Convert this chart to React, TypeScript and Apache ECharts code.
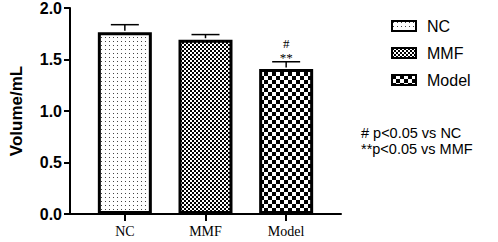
import React, { useEffect, useRef } from "react";
import * as echarts from "echarts";

const categories = ["NC", "MMF", "Model"];
const means = [1.765, 1.692, 1.408];
const errors = [0.073, 0.05, 0.07];
const sigTop = ["", "", "#"];
const sigBottom = ["", "", "**"];
const yTicks = [0, 0.5, 1.0, 1.5, 2.0];
const notes = ["# p<0.05 vs NC", "**p<0.05 vs MMF"];

function makePattern(kind: string): string {
  const c = document.createElement("canvas");
  const ctx = c.getContext("2d")!;
  if (kind === "dots") {
    c.width = 4; c.height = 4;
    ctx.fillStyle = "#fff"; ctx.fillRect(0, 0, 4, 4);
    ctx.fillStyle = "#444"; ctx.fillRect(1, 1, 1, 1);
  } else if (kind === "fine") {
    c.width = 4; c.height = 4;
    ctx.fillStyle = "#fff"; ctx.fillRect(0, 0, 4, 4);
    ctx.fillStyle = "#000"; ctx.fillRect(0, 0, 2, 2); ctx.fillRect(2, 2, 2, 2);
  } else {
    c.width = 8; c.height = 8;
    ctx.fillStyle = "#fff"; ctx.fillRect(0, 0, 8, 8);
    ctx.fillStyle = "#000"; ctx.fillRect(0, 0, 4, 4); ctx.fillRect(4, 4, 4, 4);
  }
  return c.toDataURL();
}

export default function App() {
  const ref = useRef<HTMLDivElement>(null);
  useEffect(() => {
    const chart = echarts.init(ref.current!, null, { renderer: "svg" });
    const kinds = ["dots", "fine", "coarse"];
    const barSeries = categories.map((name, i) => ({
      type: "bar",
      name,
      barWidth: 54,
      barGap: "-100%",
      data: [[i, means[i]]],
      itemStyle: {
        color: { image: makePattern(kinds[i]), repeat: "repeat" },
        borderColor: "#000",
        borderWidth: 3,
      },
      z: 2,
    }));
    chart.setOption({
      animation: false,
      grid: { left: 57, right: 157, top: 8, bottom: 28 },
      legend: {
        left: 386,
        top: 13,
        orient: "vertical",
        itemWidth: 24,
        itemHeight: 10,
        itemGap: 11,
        icon: "rect",
        selectedMode: false,
        textStyle: { fontFamily: "Liberation Sans", fontSize: 16, color: "#000", padding: [0, 0, 0, 6] },
        data: categories,
      },
      xAxis: {
        type: "value",
        min: -0.68,
        max: 2.68,
        splitLine: { show: false },
        axisLine: { show: true, onZero: false, lineStyle: { color: "#000", width: 2 } },
        axisTick: { show: true, customValues: [0, 1, 2], length: 7, lineStyle: { color: "#000", width: 2 } },
        axisLabel: {
          customValues: [0, 1, 2],
          formatter: (v: number) => categories[Math.round(v)] ?? "",
          fontFamily: "Liberation Serif",
          fontSize: 14,
          color: "#000",
          margin: 10,
        },
      },
      yAxis: {
        type: "value",
        min: 0,
        max: 2,
        interval: 0.5,
        name: "Volume/mL",
        nameLocation: "middle",
        nameRotate: 90,
        nameGap: 45,
        nameTextStyle: { fontFamily: "Liberation Sans", fontWeight: "bold", fontSize: 17, color: "#000" },
        splitLine: { show: false },
        axisLine: { show: true, onZero: false, lineStyle: { color: "#000", width: 2 } },
        axisTick: { show: true, length: 6, lineStyle: { color: "#000", width: 2 } },
        axisLabel: {
          formatter: (v: number) => (yTicks.includes(v) ? v.toFixed(1) : ""),
          fontFamily: "Liberation Sans",
          fontWeight: "bold",
          fontSize: 16,
          color: "#000",
          margin: 8,
        },
      },
      series: [
        ...barSeries,
        {
          type: "custom",
          z: 5,
          data: means.map((m, i) => [i, m, m + errors[i]]),
          renderItem: (params: any, api: any) => {
            const i = api.value(0);
            const base = api.coord([i, api.value(1)]);
            const top = api.coord([i, api.value(2)]);
            const half = 14;
            const children: any[] = [
              { type: "line", shape: { x1: base[0], y1: base[1] - 1.5, x2: top[0], y2: top[1] }, style: { stroke: "#000", lineWidth: 1.5 } },
              { type: "line", shape: { x1: top[0] - half, y1: top[1], x2: top[0] + half, y2: top[1] }, style: { stroke: "#000", lineWidth: 1.5 } },
            ];
            const t1 = sigTop[params.dataIndex];
            const t2 = sigBottom[params.dataIndex];
            if (t2) {
              children.push({
                type: "text",
                style: { text: t2, x: top[0], y: top[1] + 2, align: "center", verticalAlign: "bottom", fontFamily: "Liberation Serif", fontSize: 13, fill: "#000" },
              });
            }
            if (t1) {
              children.push({
                type: "text",
                style: { text: t1, x: top[0], y: top[1] - 12, align: "center", verticalAlign: "bottom", fontFamily: "Liberation Serif", fontSize: 13, fill: "#000" },
              });
            }
            return { type: "group", children };
          },
        },
      ],
      graphic: notes.map((t, k) => ({
        type: "text",
        left: 361,
        top: 125 + k * 16,
        style: { text: t, fontFamily: "Liberation Sans", fontSize: 14.5, fill: "#000" },
      })),
    });
    return () => chart.dispose();
  }, []);
  return <div ref={ref} style={{ width: 498, height: 242, position: "absolute", left: 0, top: 0 }} />;
}
